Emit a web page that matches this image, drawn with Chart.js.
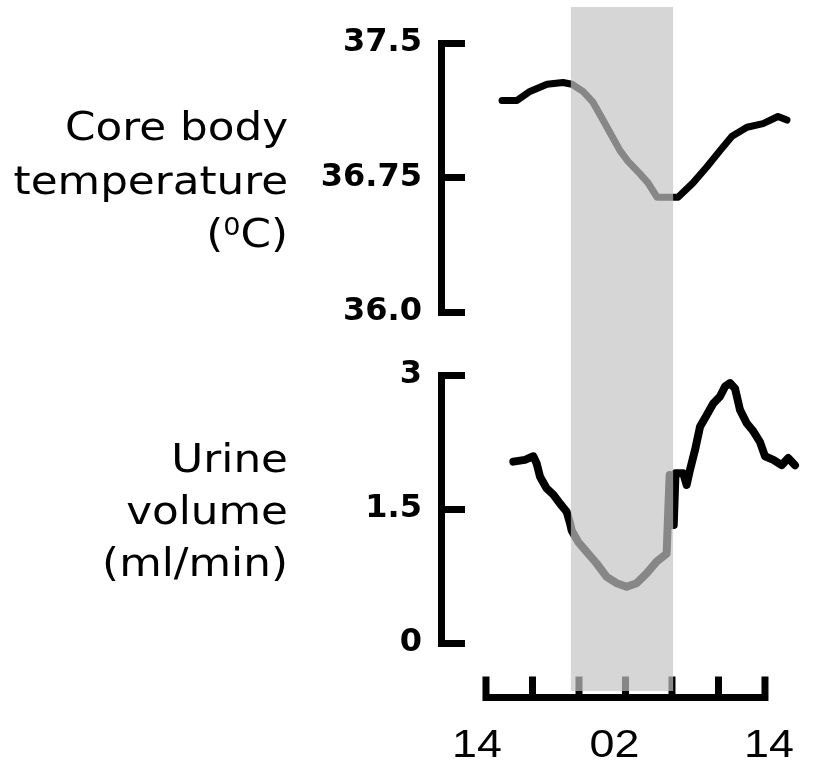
<!DOCTYPE html>
<html>
<head>
<meta charset="utf-8">
<script src="https://cdn.jsdelivr.net/npm/chart.js@4.4.1/dist/chart.umd.min.js"></script>
<style>
  body { margin: 0; background: #fff; }
  #wrap { position: relative; width: 814px; height: 770px; overflow: hidden; }
  canvas { position: absolute; left: 0; }
  .lab {
    position: absolute;
    right: 526px;
    text-align: right;
    white-space: nowrap;
    font-family: 'DejaVu Sans', sans-serif;
    font-size: 39px;
    color: #000;
    transform: scaleX(1.12);
    transform-origin: right top;
  }
  .sup { font-size: 0.62em; position: relative; top: -0.5em; }
</style>
</head>
<body>
<div id="wrap">
  <canvas id="tempChart" width="814" height="340" style="top:0"></canvas>
  <canvas id="urineChart" width="814" height="430" style="top:340px"></canvas>
  <div class="lab" style="top:100px;line-height:53.5px">Core body<br>temperature<br>(<span class="sup">0</span>C)</div>
  <div class="lab" style="top:433px;line-height:52px">Urine<br>volume<br>(ml/min)</div>
</div>
<script>
// hours after 14:00
const xTickHours = [0, 4, 8, 12, 16, 20, 24];
const xLabelHours = [0, 12, 24];
const xLabels = ['14', '02', '14'];
const sleepStart = 7.3;
const sleepEnd = 16.1;

const tempTicks = [36.0, 36.75, 37.5];
const tempTickLabels = ['36.0', '36.75', '37.5'];
const tempHours = [1.38, 2.67, 3.78, 5.25, 6.62, 7.40, 8.34, 9.20, 9.98, 10.84, 11.53, 12.22, 13.25,
  13.94, 14.71, 16.09, 16.52, 17.81, 19.01, 20.13, 21.16, 22.45, 23.83, 25.12, 25.89];
const tempValues = [37.18, 37.18, 37.23, 37.27, 37.28, 37.27, 37.23, 37.17, 37.08, 36.98, 36.90, 36.84, 36.77,
  36.72, 36.64, 36.64, 36.64, 36.72, 36.81, 36.90, 36.98, 37.03, 37.05, 37.09, 37.07];

const urineTicks = [0, 1.5, 3];
const urineTickLabels = ['0', '1.5', '3'];
const urineHours = [2.35, 3.35, 4.07, 4.36, 4.65, 5.22, 5.79, 6.37, 6.94, 7.23, 7.37, 7.94, 8.66, 9.52,
  10.38, 11.24, 12.10, 12.96, 13.82, 14.68, 15.54, 15.68, 15.80, 16.02, 16.15, 16.30, 16.97, 17.26,
  17.55, 17.98, 18.41, 18.98, 19.55, 20.13, 20.56, 20.99, 21.42, 21.85, 22.43, 23.00, 23.57, 24.00,
  24.72, 25.43, 26.00, 26.58];
const urineValues = [2.03, 2.05, 2.09, 2.01, 1.86, 1.73, 1.66, 1.56, 1.47, 1.34, 1.26, 1.13, 1.02, 0.89,
  0.74, 0.67, 0.63, 0.67, 0.78, 0.91, 1.00, 1.49, 1.88, 1.87, 1.32, 1.90, 1.90, 1.77,
  1.94, 2.16, 2.42, 2.55, 2.68, 2.76, 2.87, 2.91, 2.85, 2.61, 2.46, 2.37, 2.25, 2.09,
  2.05, 1.99, 2.07, 1.99];

// translucent band over the sleep period, drawn on top so the trace turns grey
const nightShade = {
  id: 'nightShade',
  afterDraw(chart, args, opts) {
    const sx = chart.scales.x;
    const x0 = sx.getPixelForValue(sleepStart);
    const x1 = sx.getPixelForValue(sleepEnd);
    const ctx = chart.ctx;
    ctx.save();
    ctx.fillStyle = 'rgba(196,196,196,0.69)';
    ctx.fillRect(x0, opts.top, x1 - x0, opts.bottom - opts.top);
    ctx.restore();
  }
};

// bracket-style time axis under the lower panel
const timeAxis = {
  id: 'timeAxis',
  afterDatasetsDraw(chart, args, opts) {
    const sx = chart.scales.x;
    const ctx = chart.ctx;
    const px = xTickHours.map(h => sx.getPixelForValue(h));
    const y = opts.y;
    ctx.save();
    ctx.strokeStyle = '#000';
    ctx.lineWidth = 7;
    ctx.beginPath();
    ctx.moveTo(px[0] - 3.5, y);
    ctx.lineTo(px[px.length - 1] + 3.5, y);
    px.forEach(p => { ctx.moveTo(p, y); ctx.lineTo(p, y - 21); });
    ctx.stroke();

    const nudge = [-9, -11, 4];
    ctx.fillStyle = '#000';
    ctx.font = '38px "Liberation Sans", Arial, sans-serif';
    ctx.textAlign = 'center';
    ctx.textBaseline = 'alphabetic';
    xLabelHours.forEach((h, i) => {
      ctx.save();
      ctx.translate(sx.getPixelForValue(h) + nudge[i], opts.labelY);
      ctx.scale(1.18, 1);
      ctx.fillText(xLabels[i], 0, 0);
      ctx.restore();
    });
    ctx.restore();
  }
};

function yAxis(min, max, ticks, labels) {
  return {
    min: min,
    max: max,
    afterBuildTicks: s => { s.ticks = ticks.map(v => ({ value: v })); },
    // fixed axis width; tick padding must not push the plot area in
    afterFit: s => { s.width = 441; s.paddingTop = 0; s.paddingBottom = 0; },
    border: { display: true, color: '#000', width: 7 },
    grid: { drawOnChartArea: false, color: '#000', lineWidth: 7, tickWidth: 7, tickLength: -24 },
    ticks: {
      padding: 43,
      color: '#000',
      autoSkip: false,
      font: { family: 'DejaVu Sans', size: 32, weight: 'bold' },
      callback: (v, i) => labels[i]
    }
  };
}

function makeChart(id, hours, values, lineWidth, y, padding, pluginOpts, plugins) {
  return new Chart(document.getElementById(id), {
    type: 'line',
    data: {
      datasets: [{
        data: hours.map((h, i) => ({ x: h, y: values[i] })),
        borderColor: '#000',
        borderWidth: lineWidth,
        borderJoinStyle: 'round',
        borderCapStyle: 'round',
        pointRadius: 0,
        tension: 0,
        fill: false
      }]
    },
    options: {
      responsive: false,
      animation: false,
      layout: { padding: padding },
      scales: {
        x: { type: 'linear', display: false, min: -3.87, max: 27.7 },
        y: y
      },
      plugins: Object.assign({ legend: { display: false }, tooltip: { enabled: false } }, pluginOpts)
    },
    plugins: plugins
  });
}

makeChart('tempChart', tempHours, tempValues, 7,
  yAxis(36.0, 37.5, tempTicks, tempTickLabels),
  { left: 0, right: 6, top: 43, bottom: 28 },
  { nightShade: { top: 7, bottom: 340 } },
  [nightShade]);

makeChart('urineChart', urineHours, urineValues, 8,
  yAxis(0, 3, urineTicks, urineTickLabels),
  { left: 0, right: 6, top: 35, bottom: 127 },
  { nightShade: { top: 0, bottom: 351 }, timeAxis: { y: 357.5, labelY: 417 } },
  [timeAxis, nightShade]);
</script>
</body>
</html>
